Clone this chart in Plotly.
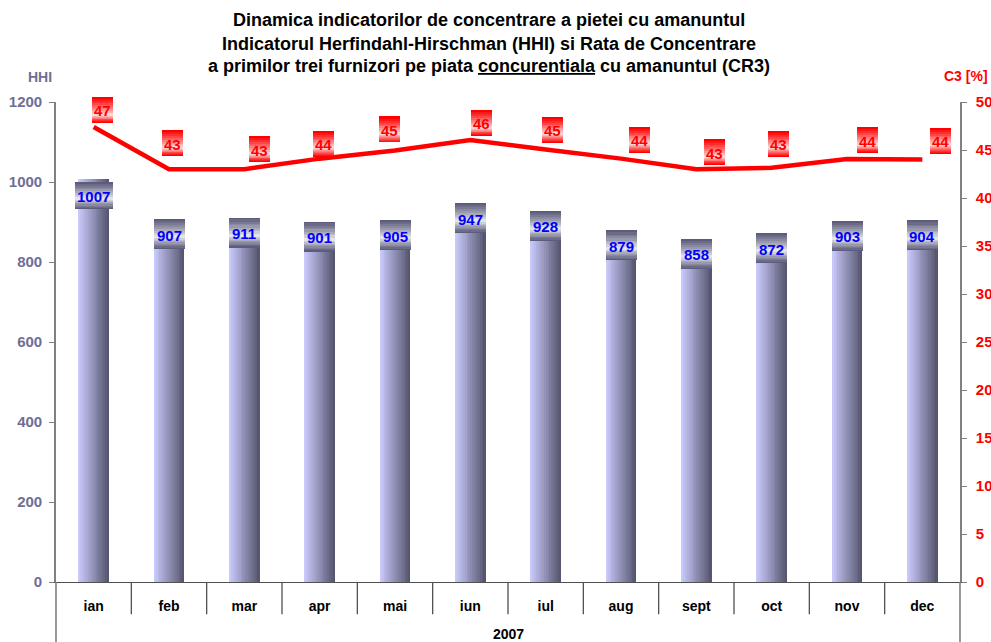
import plotly.graph_objects as go

# ---------------- data ----------------
months = ["ian", "feb", "mar", "apr", "mai", "iun", "iul", "aug", "sept", "oct", "nov", "dec"]
hhi = [1007, 907, 911, 901, 905, 947, 928, 879, 858, 872, 903, 904]
c3 = [47.4, 43.0, 43.0, 44.1, 44.95, 46.05, 45.05, 44.1, 43.0, 43.15, 44.05, 44.0]
c3_labels = [47, 43, 43, 44, 45, 46, 45, 44, 43, 43, 44, 44]
year_label = "2007"
hhi_ticks = [0, 200, 400, 600, 800, 1000, 1200]
c3_ticks = [0, 5, 10, 15, 20, 25, 30, 35, 40, 45, 50]

# ---------------- style ----------------
FONT = "Arial, Liberation Sans, sans-serif"
AXIS_PURPLE = "#6e6e96"
RED = "#ff0000"
BAR_W = 0.405
N_SLICES = 16
LEFT_RGB = (200, 200, 250)
RIGHT_RGB = (86, 86, 112)

# pixel offsets (x right, y down) of C3 label boxes relative to line points
c3_dx = [9, 3, 15, 4, -6, 11, 7, 18, 18, 7, 20, 18]
c3_dy = [-17, -26, -20, -15, -21, -17, -20, -19, -17, -24, -19, -19]


def mix(c1, c2, t):
    return "rgb(%d,%d,%d)" % tuple(round(a + (b - a) * t) for a, b in zip(c1, c2))


fig = go.Figure()

# bars drawn as thin slices to reproduce the horizontal gradient
sw = BAR_W / N_SLICES
for i in range(N_SLICES):
    t = i / (N_SLICES - 1)
    w = sw * (1.35 if i < N_SLICES - 1 else 1.0)
    fig.add_trace(go.Bar(
        x=months, y=hhi, width=[w] * len(months),
        offset=[-BAR_W / 2 + i * sw] * len(months),
        marker=dict(color=mix(LEFT_RGB, RIGHT_RGB, t), line=dict(width=0)),
        showlegend=False, hoverinfo="skip", yaxis="y",
    ))

fig.add_trace(go.Scatter(
    x=months, y=c3, yaxis="y2", mode="lines",
    line=dict(color=RED, width=4.5), showlegend=False, hoverinfo="skip",
))

annotations = []


def gradient_box(x, y, yref, xshift, yshift, w, h, white_frac, edge_rgb, text, color, layers=9):
    a = white_frac * h
    b = h - a
    w0 = -h / 2 + a
    for k in range(layers):
        f = 1 - k / layers
        center = w0 + f * (b - a) / 2
        hh = max(f * h, 1)
        annotations.append(dict(
            x=x, y=y, xref="x", yref=yref, text=" ", showarrow=False,
            width=w, height=hh, borderpad=0, borderwidth=0,
            bgcolor=mix((255, 255, 255), edge_rgb, f ** 0.8),
            font=dict(size=1), xshift=xshift, yshift=yshift - center,
            xanchor="center", yanchor="middle",
        ))
    annotations.append(dict(
        x=x, y=y, xref="x", yref=yref, text="<b>%s</b>" % text, showarrow=False,
        font=dict(family=FONT, size=15, color=color),
        xshift=xshift, yshift=yshift - 1, xanchor="center", yanchor="middle",
    ))


for m, v in zip(months, hhi):
    s = str(v)
    bw = 38 if len(s) > 3 else 31
    bh = 27 if len(s) > 3 else 30
    off = -16.5 if len(s) > 3 else -15
    gradient_box(m, v, "y", 0, off, bw, bh, 0.6, (92, 92, 124), s, "#0000ff")

for m, v, lab, dx, dy in zip(months, c3, c3_labels, c3_dx, c3_dy):
    gradient_box(m, v, "y2", dx, -dy, 21, 26, 0.68, (255, 0, 0), str(lab), RED)

# titles
title_lines = [
    "Dinamica indicatorilor de concentrare a pietei cu amanuntul",
    "Indicatorul Herfindahl-Hirschman (HHI) si Rata de Concentrare",
    "a primilor trei furnizori pe piata <u>concurentiala</u> cu amanuntul (CR3)",
]
for txt, yp in zip(title_lines, [1.171, 1.121, 1.075]):
    annotations.append(dict(
        x=0.479, y=yp, xref="paper", yref="paper", text="<b>%s</b>" % txt,
        showarrow=False, font=dict(family=FONT, size=18, color="black"),
        xanchor="center", yanchor="middle",
    ))

annotations.append(dict(x=-0.018, y=1.052, xref="paper", yref="paper", text="<b>HHI</b>",
                        showarrow=False, font=dict(family=FONT, size=14, color=AXIS_PURPLE),
                        xanchor="center", yanchor="middle"))
annotations.append(dict(x=1.007, y=1.054, xref="paper", yref="paper", text="<b>C3 [%]</b>",
                        showarrow=False, font=dict(family=FONT, size=14, color=RED),
                        xanchor="center", yanchor="middle"))
annotations.append(dict(x=0.5, y=-0.108, xref="paper", yref="paper", text="<b>%s</b>" % year_label,
                        showarrow=False, font=dict(family=FONT, size=14, color="black"),
                        xanchor="center", yanchor="middle"))

shapes = []
for i in range(len(months) - 1):
    shapes.append(dict(type="line", xref="x", yref="paper", x0=i + 0.5, x1=i + 0.5,
                       y0=0, y1=-0.067, line=dict(color="#505050", width=1.3)))
for xp in [0, 1]:
    shapes.append(dict(type="line", xref="paper", yref="paper", x0=xp, x1=xp,
                       y0=0, y1=-0.13, line=dict(color="#808080", width=1.6)))

fig.update_layout(
    width=991, height=642,
    margin=dict(l=56, r=31, t=102, b=60, autoexpand=False),
    paper_bgcolor="white", plot_bgcolor="white",
    barmode="overlay", bargap=0,
    font=dict(family=FONT),
    showlegend=False,
    annotations=annotations,
    shapes=shapes,
    xaxis=dict(
        type="category", categoryorder="array", categoryarray=months,
        range=[-0.5, len(months) - 0.5], showline=True, linecolor="#505050", linewidth=1.3,
        ticks="", showgrid=False, zeroline=False, automargin=False,
        tickfont=dict(family=FONT, size=14, color="black", weight="bold"),
        ticklabelstandoff=11,
    ),
    yaxis=dict(
        range=[0, 1200], tickvals=hhi_ticks, showline=True, linecolor="#808080", linewidth=1.6,
        ticks="outside", ticklen=5, tickcolor="#808080", showgrid=False, zeroline=False,
        automargin=False,
        tickfont=dict(family=FONT, size=15, color=AXIS_PURPLE, weight="bold"),
        ticklabelstandoff=4,
    ),
    yaxis2=dict(
        range=[0, 50], tickvals=c3_ticks, overlaying="y", side="right",
        showline=True, linecolor="#808080", linewidth=1.6,
        ticks="outside", ticklen=5, tickcolor="#808080", showgrid=False, zeroline=False,
        automargin=False,
        tickfont=dict(family=FONT, size=15, color=RED, weight="bold"),
        ticklabelstandoff=6,
    ),
)

fig.write_html("out.html", config={"displayModeBar": False},
               post_script="document.body.style.margin='0px';document.body.style.overflow='hidden';")
